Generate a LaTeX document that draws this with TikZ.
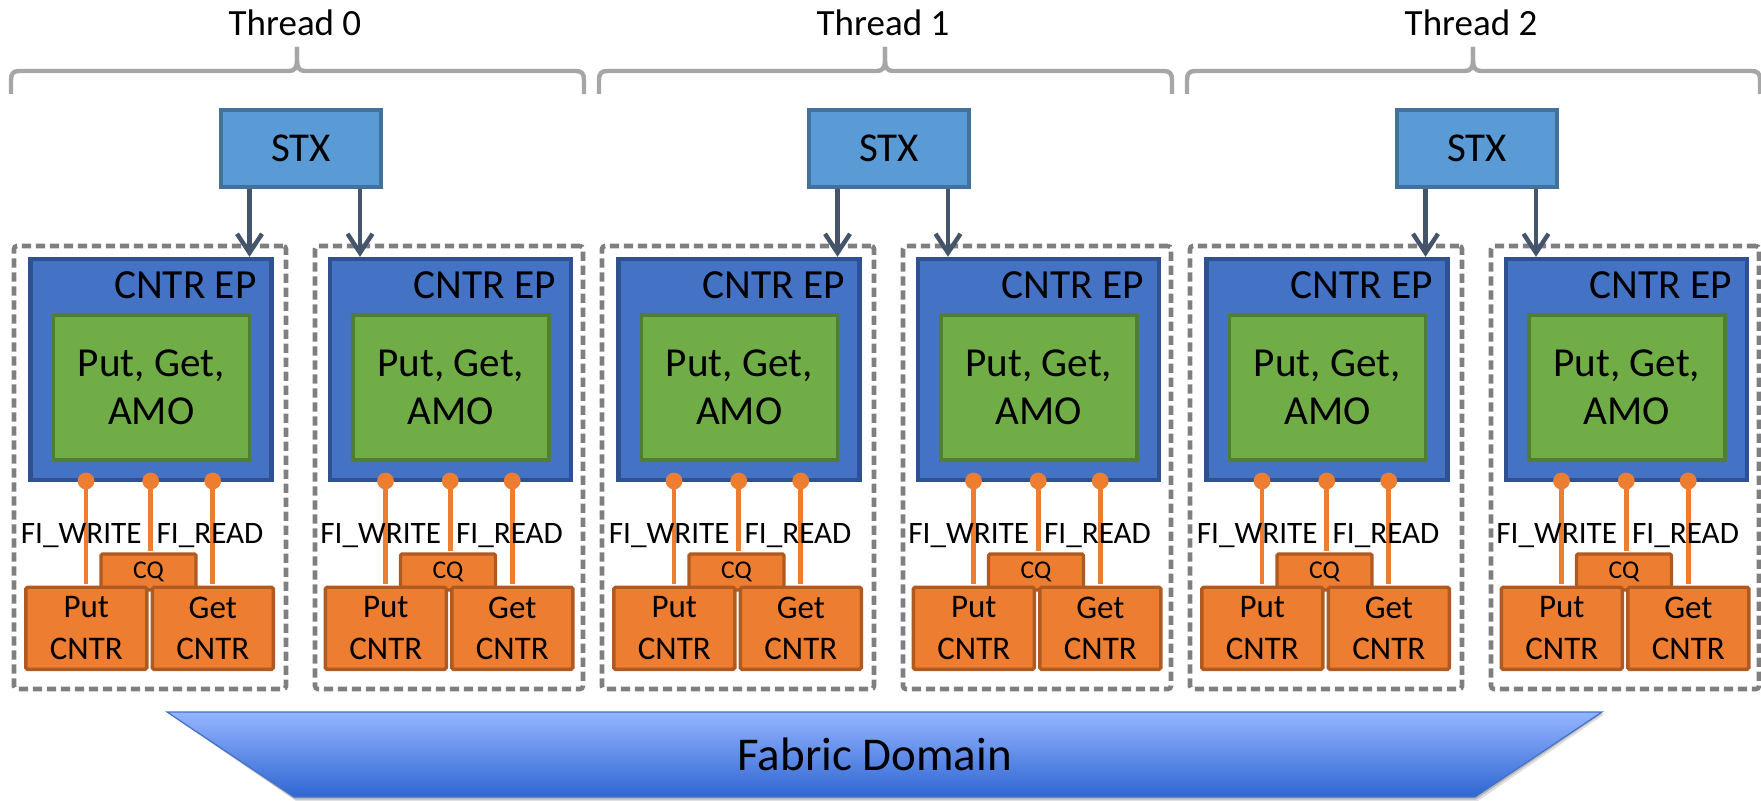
\documentclass[tikz,border=0pt]{standalone}
\usepackage{fontspec}
\setmainfont{Carlito}
\usetikzlibrary{arrows.meta,calc}
\definecolor{stxfill}{HTML}{5B9BD5}
\definecolor{stxline}{HTML}{41719C}
\definecolor{epfill}{HTML}{4472C4}
\definecolor{epline}{HTML}{2F528F}
\definecolor{opfill}{HTML}{70AD47}
\definecolor{opline}{HTML}{507E32}
\definecolor{cfill}{HTML}{ED7D31}
\definecolor{cline}{HTML}{AE5A21}
\definecolor{grpline}{HTML}{7F7F7F}
\definecolor{braceline}{HTML}{A6A6A6}
\definecolor{arrline}{HTML}{44546A}
\definecolor{fabtop}{HTML}{94B4FF}
\definecolor{fabmid}{HTML}{7A9DF1}
\definecolor{fabbot}{HTML}{2F66D2}
\definecolor{fabline}{HTML}{4472C4}
\tikzset{
  threadlab/.style={anchor=base, inner sep=0pt, font=\fontsize{18.5}{22}\selectfont},
  bracepath/.style={draw=braceline, line width=2.2pt},
  stxbox/.style={draw=stxline, fill=stxfill, line width=2pt, minimum width=80.25pt,
    minimum height=38.3pt, inner sep=0pt, font=\fontsize{20.5}{24}\selectfont},
  grpbox/.style={draw=grpline, line width=2.3pt, dash pattern=on 4.6pt off 2.4pt,
    rounded corners=1.5pt, minimum height=221.5pt, inner sep=0pt},
  epbox/.style={draw=epline, fill=epfill, line width=2.2pt, minimum width=120.5pt,
    minimum height=110.5pt, inner sep=0pt},
  eplab/.style={anchor=base east, inner sep=0pt, font=\fontsize{20.7}{24}\selectfont},
  opbox/.style={draw=opline, fill=opfill, line width=1.8pt, minimum width=98pt,
    minimum height=72.5pt, inner sep=0pt, align=center,
    font=\fontsize{20.6}{24.2}\selectfont},
  pin/.style={circle, fill=cfill, minimum size=8.4pt, inner sep=0pt},
  wire/.style={draw=cfill, line width=2.3pt},
  cqbox/.style={draw=cline, fill=cfill, line width=1.7pt, minimum width=47.5pt,
    minimum height=18pt, inner sep=0pt, rounded corners=0.8pt,
    font=\fontsize{12.8}{15}\selectfont},
  cntbox/.style={draw=cline, fill=cfill, line width=1.7pt, minimum width=60.5pt,
    minimum height=41pt, inner sep=0pt, align=center, rounded corners=0.8pt,
    font=\fontsize{16.5}{20.8}\selectfont},
  flaglab/.style={anchor=base, inner sep=0pt, font=\fontsize{15.6}{18}\selectfont},
  stxarrow/.style={draw=arrline, line width=2.2pt,
    -{Straight Barb[length=9.5pt,width=12.5pt,line width=2.2pt]}},
  fablab/.style={anchor=base, inner sep=0pt, font=\fontsize{23.5}{28}\selectfont},
}
\begin{document}
\begin{tikzpicture}[x=0.5pt,y=-0.5pt]
\useasboundingbox (0,0) rectangle (1761,801);

\foreach \u in {0,1,2} {
  \pgfmathsetmacro\ox{588*\u}
  % thread heading and its brace
  \node[threadlab] (thr\u) at (\ox+295,36) {Thread \u};
  \draw[bracepath] (\ox+11,94) -- (\ox+11,80)
      .. controls (\ox+11,74) and (\ox+13,71) .. (\ox+19,71)
      -- (\ox+289,71)
      .. controls (\ox+294,71) and (\ox+297,68) .. (\ox+297,61) -- (\ox+297,47);
  \draw[bracepath] (\ox+297,47) -- (\ox+297,61)
      .. controls (\ox+297,68) and (\ox+300,71) .. (\ox+305,71)
      -- (\ox+576,71)
      .. controls (\ox+582,71) and (\ox+584,74) .. (\ox+584,80) -- (\ox+584,94);
  % shared transmit context
  \node[stxbox] (stx\u) at (\ox+301.2,148.3) {STX};

  \foreach \s/\sx/\gc/\gw/\ax in {a/0/150/136/249.5, b/299.5/449/134/360} {
    \pgfmathsetmacro\bx{\ox+\sx}
    \node[grpbox, minimum width=\gw pt] (grp\u\s) at (\ox+\gc,467.5) {};
    \node[epbox] (ep\u\s) at (\bx+151,369.5) {};
    \node[eplab] (eplab\u\s) at (\bx+257,299) {CNTR EP};
    \node[opbox] (op\u\s) at (\bx+151.3,387.5) {Put, Get,\\AMO};
    % arrow from the STX into this endpoint
    \coordinate (ax\u\s) at (\ox+\ax,300);
    \draw[stxarrow] (stx\u.south -| ax\u\s) -- (ep\u\s.north -| ax\u\s);
    % counters and completion queue
    \node[cqbox] (cq\u\s) at (\bx+148.5,572) {CQ};
    \node[cntbox] (put\u\s) at (\bx+86.3,628.3) {Put\\CNTR};
    \node[cntbox] (get\u\s) at (\bx+212.8,628.3) {Get\\CNTR};
    % binding pins and wires
    \node[pin] (pw\u\s) at (\bx+86,481) {};
    \node[pin] (pq\u\s) at (\bx+150.7,481) {};
    \node[pin] (pr\u\s) at (\bx+212.7,481) {};
    \draw[wire, shorten >=0.85pt] (pw\u\s.center) -- (put\u\s.north -| pw\u\s);
    \draw[wire, shorten >=0.85pt] (pq\u\s.center) -- (cq\u\s.north -| pq\u\s);
    \draw[wire, shorten >=0.85pt] (pr\u\s.center) -- (get\u\s.north -| pr\u\s);
    \node[flaglab] (fw\u\s) at (\bx+81.2,543.3) {FI\_WRITE};
    \node[flaglab] (fr\u\s) at (\bx+210,543.3) {FI\_READ};
  }
}

% fabric domain base with its soft shadow
\fill[black, opacity=0.12] (169,714) -- (1605,714) -- (1478,801) -- (296,801) -- cycle;
\fill[black, opacity=0.18] (168,713) -- (1603,713) -- (1476,799.5) -- (295,799.5) -- cycle;
\shade[top color=fabtop, middle color=fabmid, bottom color=fabbot, draw=fabline, line width=0.6pt]
  (167,712) -- (1602,712) -- (1475,797) -- (294,797) -- cycle;
\node[fablab] (fab) at (874.7,770.7) {Fabric Domain};
\end{tikzpicture}
\end{document}
